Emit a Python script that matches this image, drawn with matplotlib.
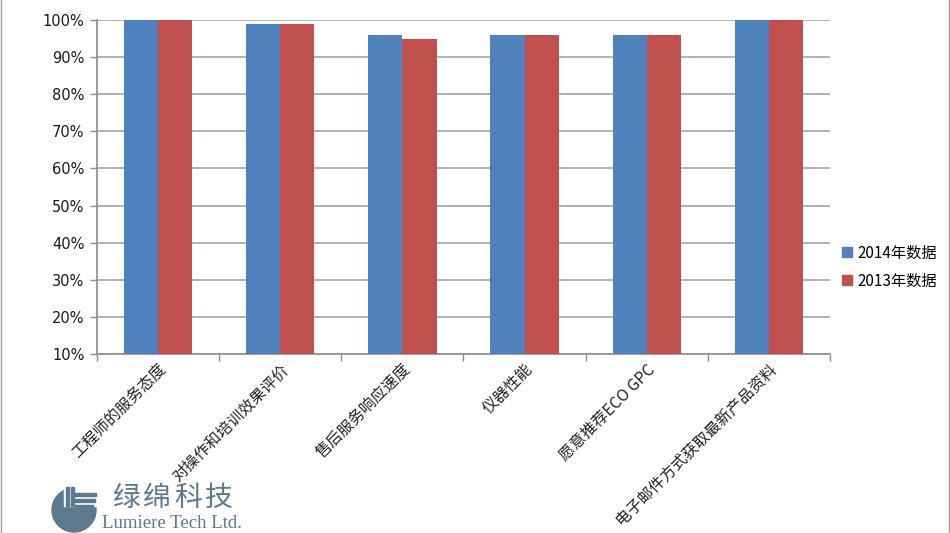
import matplotlib
matplotlib.use("Agg")
import matplotlib.pyplot as plt
from matplotlib.patches import Wedge, Rectangle
from matplotlib.lines import Line2D
import numpy as np

plt.rcParams['font.family'] = ['Noto Sans CJK SC', 'DejaVu Sans']

categories = ["工程师的服务态度", "对操作和培训效果评价", "售后服务响应速度",
              "仪器性能", "愿意推荐ECO GPC", "电子邮件方式获取最新产品资料"]
series_2014 = [100, 99, 96, 96, 96, 100]
series_2013 = [100, 99, 95, 96, 96, 100]
series_names = ["2014年数据", "2013年数据"]
y_ticks = [10, 20, 30, 40, 50, 60, 70, 80, 90, 100]
y_ticklabels = [f"{v}%" for v in y_ticks]
logo_chars = ["绿", "绵", "科", "技"]

W, H = 950, 533
fig = plt.figure(figsize=(W / 100, H / 100), dpi=100)

def fx(px):
    return px / W

def fy(py):
    return 1 - py / H

ax = fig.add_axes([fx(97), fy(354), fx(830) - fx(97), fy(20) - fy(354)])

x = np.arange(len(categories))
bw = 0.28
c_blue = "#4f81bd"
c_red = "#c0504d"
ax.bar(x - bw / 2, np.array(series_2014) - 10, bw, bottom=10, color=c_blue, zorder=3)
ax.bar(x + bw / 2, np.array(series_2013) - 10, bw, bottom=10, color=c_red, zorder=3)

ax.set_xlim(-0.5, len(categories) - 0.5)
ax.set_ylim(10, 100)
ax.set_yticks(y_ticks)
ax.set_yticklabels(y_ticklabels, fontsize=10.5, family=['DejaVu Sans'], color="#1a1a1a")
ax.yaxis.grid(True, color="#a6a6a6", linewidth=1.2, zorder=0)
ax.set_axisbelow(True)

ax.set_xticks(x)
ax.set_xticklabels(categories, rotation=45, ha='right', rotation_mode='anchor',
                   fontsize=11.3, color="#222222")
ax.tick_params(axis='x', length=0, pad=5)
ax.set_xticks(np.arange(-0.5, len(categories)), minor=True)
ax.tick_params(axis='x', which='minor', length=5, color="#8c8c8c", width=1)
ax.tick_params(axis='y', length=5, color="#8c8c8c", width=1, pad=4)

for s in ['top', 'right']:
    ax.spines[s].set_visible(False)
for s in ['left', 'bottom']:
    ax.spines[s].set_color("#8c8c8c")
    ax.spines[s].set_linewidth(1.2)

handles = [Rectangle((0, 0), 1, 1, color=c_blue), Rectangle((0, 0), 1, 1, color=c_red)]
fig.legend(handles, series_names, loc='center left', bbox_to_anchor=(fx(828), fy(267)),
           frameon=False, fontsize=11, handlelength=0.65, handleheight=0.65,
           handletextpad=0.4, labelspacing=0.75)

# Logo
slate = "#5b7a8d"
lax = fig.add_axes([0, 0, 1, 1], facecolor='none')
lax.set_xlim(0, W)
lax.set_ylim(H, 0)
lax.axis('off')
lax.add_patch(Wedge((74, 510), 22, 0, 360, color=slate))
lax.add_patch(Rectangle((64, 484), 36, 22, color="white"))
for xv in [66, 71]:
    lax.add_patch(Rectangle((xv, 487), 3.2, 19, color=slate))
for i, yv in enumerate([493, 499, 505]):
    lax.add_patch(Rectangle((74 + i * 0.5, yv), 22 - i * 2, 3, color=slate))
for i, ch in enumerate(logo_chars):
    lax.text(126 + i * 31, 498, ch, fontsize=20, color=slate, va='center', ha='center',
             family=['Noto Sans CJK SC'], fontweight='light')
lax.text(102, 523, "Lumiere Tech Ltd.", fontsize=13.5, color=slate, va='center', ha='left',
         family=['Liberation Serif'])
lax.add_line(Line2D([0.5, 0.5], [0, H], color="#9a9a9a", linewidth=1))
lax.add_line(Line2D([948.5, 948.5], [0, H], color="#9a9a9a", linewidth=1))

fig.savefig("out.png", dpi=100)
